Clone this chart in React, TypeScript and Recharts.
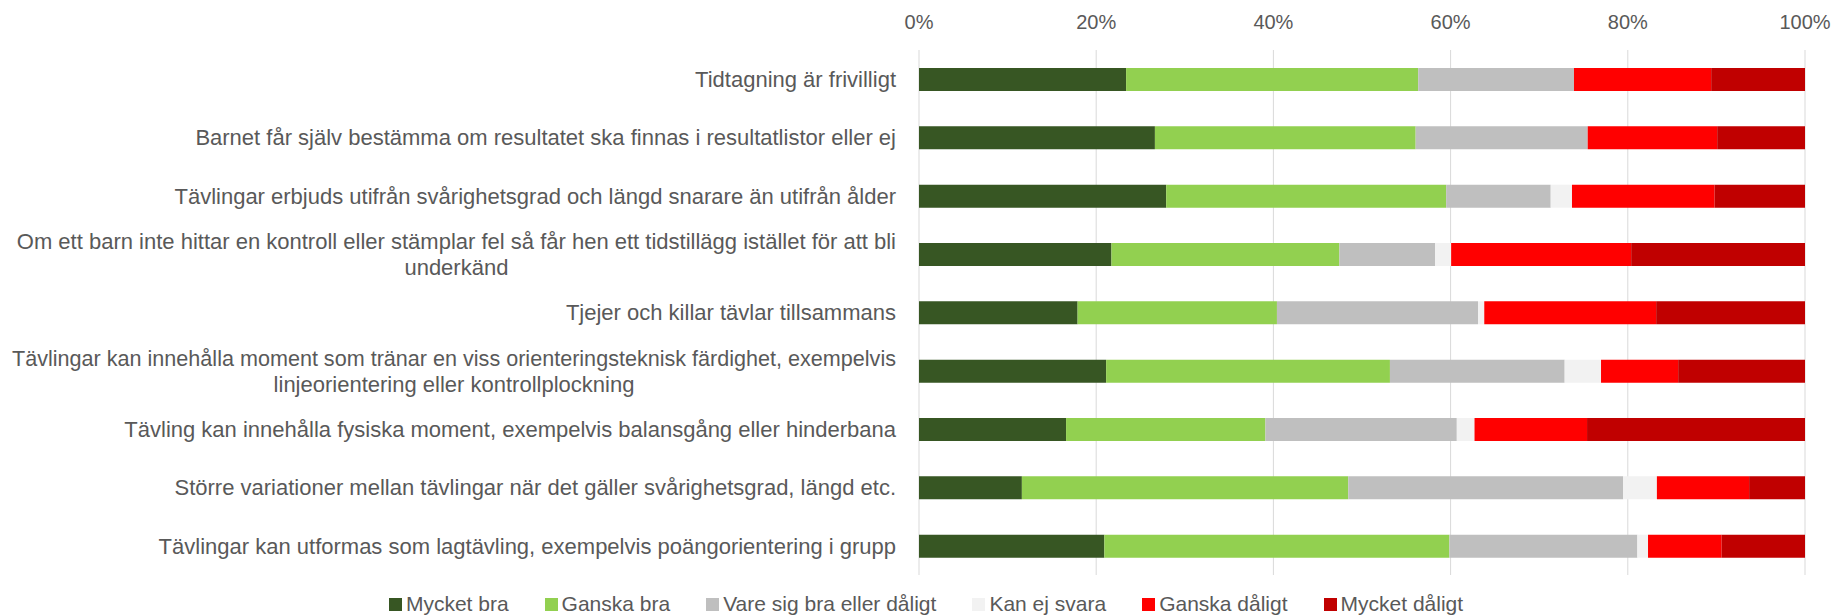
import { BarChart, Bar, XAxis, YAxis, CartesianGrid, Legend } from 'recharts';

document.body.style.margin = '0';

const FONT = "'Liberation Sans', Arial, sans-serif";
const LABEL_SIZE = 22;
const TICK_SIZE = 20;
const LEGEND_SIZE = 21;
const TEXT = '#595959';

const categories = [
  'Tidtagning är frivilligt',
  'Barnet får själv bestämma om resultatet ska finnas i resultatlistor eller ej',
  'Tävlingar erbjuds utifrån svårighetsgrad och längd snarare än utifrån ålder',
  'Om ett barn inte hittar en kontroll eller stämplar fel så får hen ett tidstillägg istället för att bli\nunderkänd',
  'Tjejer och killar tävlar tillsammans',
  'Tävlingar kan innehålla moment som tränar en viss orienteringsteknisk färdighet, exempelvis\nlinjeorientering eller kontrollplockning',
  'Tävling kan innehålla fysiska moment, exempelvis balansgång eller hinderbana',
  'Större variationer mellan tävlingar när det gäller svårighetsgrad, längd etc.',
  'Tävlingar kan utformas som lagtävling, exempelvis poängorientering i grupp',
];

const mycketBra = [23.4, 26.6, 27.9, 21.7, 17.9, 21.1, 16.6, 11.6, 20.9];
const ganskaBra = [33.0, 29.4, 31.6, 25.7, 22.5, 32.0, 22.5, 36.8, 38.9];
const vareSig = [17.6, 19.4, 11.8, 10.8, 22.7, 19.7, 21.6, 31.0, 21.2];
const kanEj = [0, 0, 2.4, 1.8, 0.7, 4.1, 2.0, 3.8, 1.2];
const ganskaDaligt = [15.5, 14.6, 16.1, 20.3, 19.4, 8.7, 12.7, 10.4, 8.3];
const mycketDaligt = [10.6, 9.9, 10.2, 19.6, 16.8, 14.3, 24.6, 6.3, 9.4];

const xTicks = [0, 0.2, 0.4, 0.6, 0.8, 1];

const series = [
  { key: 'mb', name: 'Mycket bra', color: '#375623' },
  { key: 'gb', name: 'Ganska bra', color: '#92D050' },
  { key: 'vs', name: 'Vare sig bra eller dåligt', color: '#BFBFBF' },
  { key: 'ke', name: 'Kan ej svara', color: '#F2F2F2' },
  { key: 'gd', name: 'Ganska dåligt', color: '#FF0000' },
  { key: 'md', name: 'Mycket dåligt', color: '#C00000' },
];

const data = categories.map((name, i) => ({
  name,
  mb: mycketBra[i],
  gb: ganskaBra[i],
  vs: vareSig[i],
  ke: kanEj[i],
  gd: ganskaDaligt[i],
  md: mycketDaligt[i],
}));

let ctx: CanvasRenderingContext2D | null = null;
function measure(s: string) {
  if (!ctx) {
    ctx = document.createElement('canvas').getContext('2d');
  }
  if (!ctx) return s.length * 9.5;
  ctx.font = `${LABEL_SIZE}px ${FONT}`;
  return ctx.measureText(s).width;
}

function CategoryTick({ x, y, payload }: any) {
  const lines = String(payload.value).split('\n');
  const lineH = 26;
  const maxW = x - 12;
  if (lines.length === 1) {
    return (
      <text x={x} y={y} dy="0.35em" textAnchor="end" fill={TEXT} fontSize={LABEL_SIZE} fontFamily={FONT}>
        {lines[0]}
      </text>
    );
  }
  // wrapped labels are centred inside a right-aligned box, like Excel does
  const widths = lines.map(measure);
  const w = Math.min(maxW, Math.max(...widths));
  const cx = x - w / 2;
  const top = y - ((lines.length - 1) * lineH) / 2;
  return (
    <text textAnchor="middle" fill={TEXT} fontSize={LABEL_SIZE} fontFamily={FONT}>
      {lines.map((l, i) => (
        <tspan
          key={i}
          x={cx}
          y={top + i * lineH}
          dy="0.35em"
          {...(widths[i] > maxW ? { textLength: maxW, lengthAdjust: 'spacingAndGlyphs' } : {})}
        >
          {l}
        </tspan>
      ))}
    </text>
  );
}

function LegendContent() {
  return (
    <div
      style={{
        height: 40,
        display: 'flex',
        alignItems: 'flex-end',
        justifyContent: 'center',
        gap: 36,
        paddingLeft: 47,
        fontFamily: FONT,
        fontSize: LEGEND_SIZE,
        color: TEXT,
        lineHeight: '22px',
        boxSizing: 'border-box',
      }}
    >
      {series.map((s) => (
        <div key={s.key} style={{ display: 'flex', alignItems: 'center', whiteSpace: 'nowrap' }}>
          <span style={{ width: 13, height: 13, background: s.color, marginRight: 4, display: 'inline-block' }} />
          <span>{s.name}</span>
        </div>
      ))}
    </div>
  );
}

export default function App() {
  return (
    <BarChart
      width={1836}
      height={615}
      data={data}
      layout="vertical"
      stackOffset="expand"
      margin={{ top: 20, right: 31, left: 0, bottom: 0 }}
      barSize={23}
    >
      <CartesianGrid horizontal={false} stroke="#D9D9D9" />
      <XAxis
        type="number"
        orientation="top"
        domain={[0, 1]}
        ticks={xTicks}
        tickFormatter={(v: number) => `${Math.round(v * 100)}%`}
        axisLine={false}
        tickLine={false}
        tickSize={0}
        tickMargin={21}
        height={30}
        tick={{ fill: TEXT, fontSize: TICK_SIZE, fontFamily: FONT }}
        interval={0}
      />
      <YAxis
        type="category"
        dataKey="name"
        width={919}
        axisLine={false}
        tickLine={false}
        tickSize={0}
        tickMargin={23}
        interval={0}
        tick={<CategoryTick />}
      />
      <Legend verticalAlign="bottom" height={40} content={<LegendContent />} />
      {series.map((s) => (
        <Bar key={s.key} dataKey={s.key} name={s.name} stackId="a" fill={s.color} isAnimationActive={false} />
      ))}
    </BarChart>
  );
}
